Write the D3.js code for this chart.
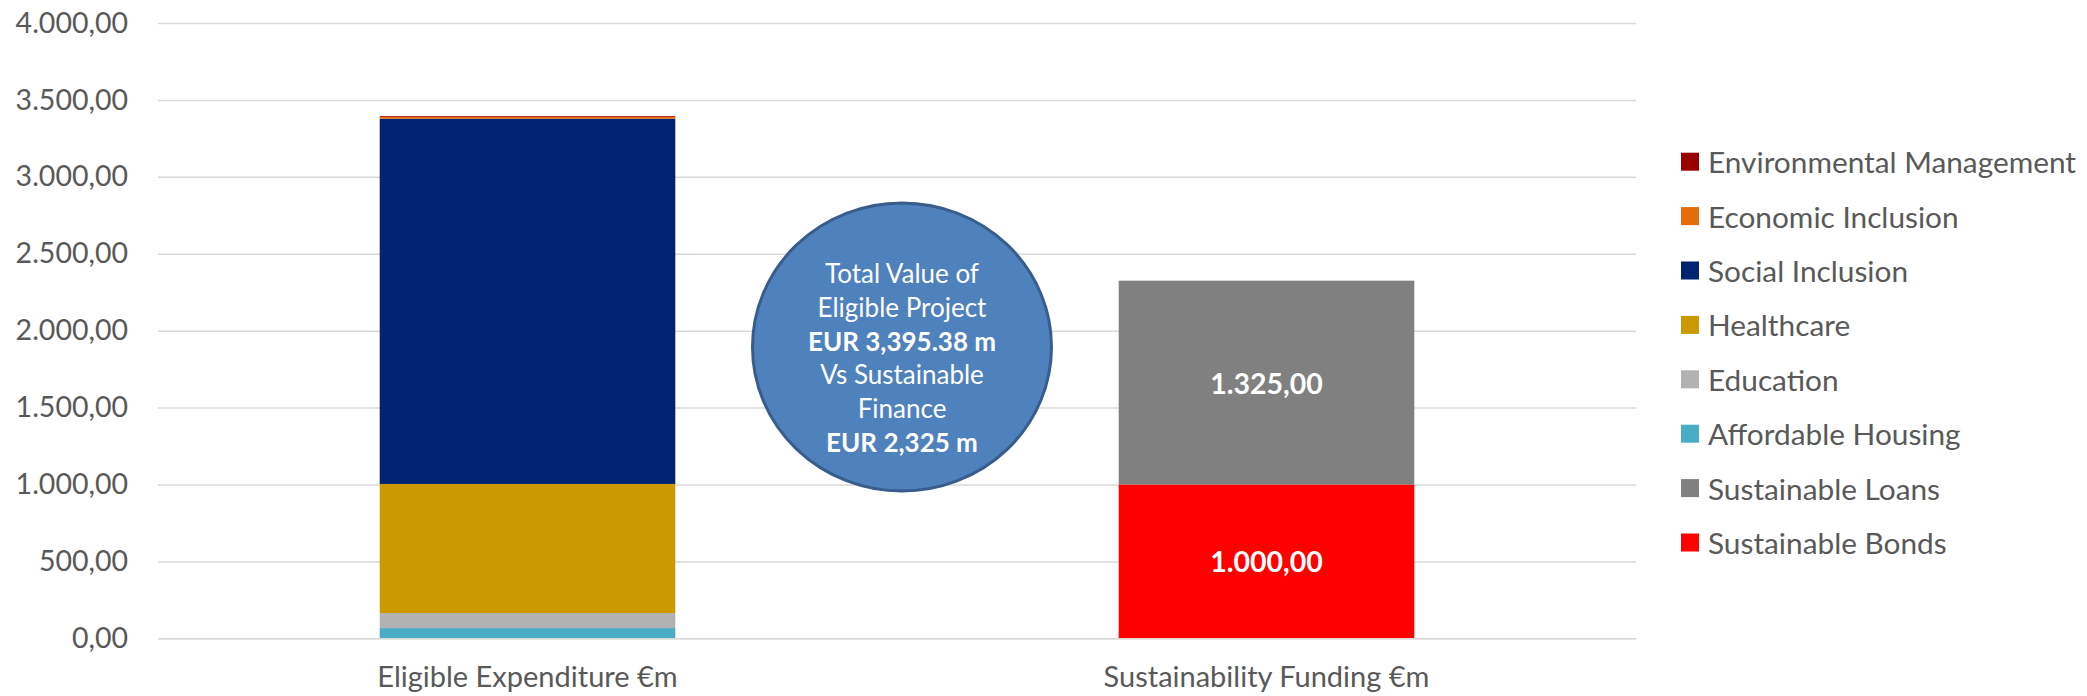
<!DOCTYPE html>
<html>
<head>
<meta charset="utf-8">
<script src="https://cdn.jsdelivr.net/npm/d3@7"></script>
<style>
  html, body { margin: 0; padding: 0; background: #ffffff; }
  svg { display: block; font-family: Lato, "Open Sans", sans-serif; }
</style>
</head>
<body>
<svg id="chart" width="2087" height="696"></svg>
<script>
// Categories on the x axis
const categories = ["Eligible Expenditure €m", "Sustainability Funding €m"];

// Series, bottom of the stack first
const seriesNames = [
  "Sustainable Bonds",
  "Sustainable Loans",
  "Affordable Housing",
  "Education",
  "Healthcare",
  "Social Inclusion",
  "Economic Inclusion",
  "Environmental Management"
];

// Values per series, one per category (€m)
const sustainableBonds        = [0, 1000.00];
const sustainableLoans        = [0, 1325.00];
const affordableHousing       = [66.5, 0];
const education               = [98.0, 0];
const healthcare              = [838.9, 0];
const socialInclusion         = [2374.5, 0];
const economicInclusion       = [12.5, 0];
const environmentalManagement = [5.0, 0];

const seriesColors = ["#FF0000", "#808080", "#4BACC6", "#B2B2B2", "#CC9900", "#002270", "#E46C0A", "#990000"];

// Series that carry value labels
const labelledSeries = ["Sustainable Bonds", "Sustainable Loans"];

// Y axis ticks
const yTicks = [0, 500, 1000, 1500, 2000, 2500, 3000, 3500, 4000];

// Call-out text (bold lines flagged)
const calloutLines = [
  { text: "Total Value of", bold: false },
  { text: "Eligible Project", bold: false },
  { text: "EUR 3,395.38 m", bold: true },
  { text: "Vs Sustainable", bold: false },
  { text: "Finance", bold: false },
  { text: "EUR 2,325 m", bold: true }
];

const valuesBySeries = [
  sustainableBonds, sustainableLoans, affordableHousing, education,
  healthcare, socialInclusion, economicInclusion, environmentalManagement
];

// Table: one row per category, one column per series
const table = categories.map((c, ci) => {
  const row = { category: c };
  seriesNames.forEach((s, si) => { row[s] = valuesBySeries[si][ci]; });
  return row;
});

const locale = d3.formatLocale({ decimal: ",", thousands: ".", grouping: [3], currency: ["", "€"] });
const fmt = locale.format(",.2f");

const svg = d3.select("#chart");
const plot = { left: 158, right: 1636, top: 23, bottom: 638.3 };

const x = d3.scaleBand()
  .domain(categories)
  .range([plot.left, plot.right])
  .paddingInner(0.6)
  .paddingOuter(0.3);

const y = d3.scaleLinear()
  .domain([0, 4000])
  .range([plot.bottom, plot.top]);

const color = d3.scaleOrdinal().domain(seriesNames).range(seriesColors);

const textColor = "#595959";
const gridColor = "#D9D9D9";

// Gridlines
const grid = svg.append("g")
  .attr("transform", `translate(${plot.left},0)`)
  .call(d3.axisLeft(y).tickValues(yTicks).tickSize(-(plot.right - plot.left)).tickFormat(""));
grid.select(".domain").remove();
grid.selectAll(".tick line").attr("stroke", gridColor).attr("stroke-width", 1.5);

// Y axis labels
const yAxis = svg.append("g")
  .attr("transform", `translate(${plot.left},0)`)
  .call(d3.axisLeft(y).tickValues(yTicks).tickSize(0).tickPadding(30).tickFormat(fmt));
yAxis.select(".domain").remove();
yAxis.selectAll("text")
  .attr("fill", textColor)
  .style("font-size", "28.5px")
  .style("font-family", "Lato, sans-serif");

// Stacked bars
const stack = d3.stack().keys(seriesNames);
const layers = stack(table);

const layerG = svg.append("g")
  .selectAll("g")
  .data(layers)
  .join("g")
  .attr("fill", d => color(d.key));

layerG.selectAll("rect")
  .data(d => d.map(p => ({ key: d.key, cat: p.data.category, y0: p[0], y1: p[1] })))
  .join("rect")
  .filter(d => d.y1 - d.y0 > 0)
  .attr("x", d => x(d.cat))
  .attr("width", x.bandwidth())
  .attr("y", d => y(d.y1))
  .attr("height", d => y(d.y0) - y(d.y1));

// X axis
const xAxis = svg.append("g")
  .attr("transform", `translate(0,${plot.bottom})`)
  .call(d3.axisBottom(x).tickSize(0).tickPadding(28));
xAxis.select(".domain").attr("stroke", gridColor).attr("stroke-width", 1.5);
xAxis.selectAll("text")
  .attr("fill", textColor)
  .style("font-size", "29px")
  .style("font-family", "Lato, sans-serif");

// Value labels
svg.append("g")
  .selectAll("text")
  .data(layers.filter(l => labelledSeries.includes(l.key))
    .flatMap(l => l.filter(p => p[1] - p[0] > 0).map(p => ({ cat: p.data.category, y0: p[0], y1: p[1] }))))
  .join("text")
  .attr("x", d => x(d.cat) + x.bandwidth() / 2)
  .attr("y", d => y((d.y0 + d.y1) / 2))
  .attr("text-anchor", "middle")
  .attr("dominant-baseline", "central")
  .attr("fill", "#ffffff")
  .style("font-size", "28.5px")
  .style("font-weight", "bold")
  .text(d => fmt(d.y1 - d.y0));

// Call-out ellipse
const callout = svg.append("g").attr("transform", "translate(902,347)");
callout.append("ellipse")
  .attr("rx", 149.5)
  .attr("ry", 144)
  .attr("fill", "#4F81BD")
  .attr("stroke", "#385D8A")
  .attr("stroke-width", 3);
callout.selectAll("text")
  .data(calloutLines)
  .join("text")
  .attr("x", 0)
  .attr("y", (d, i) => -73.7 + i * 33.7)
  .attr("text-anchor", "middle")
  .attr("dominant-baseline", "central")
  .attr("fill", "#ffffff")
  .style("font-size", "26px")
  .style("font-weight", d => d.bold ? "bold" : "normal")
  .text(d => d.text);

// Legend, top entry is the last series in the stack
const legendItems = seriesNames.slice().reverse();
const legend = svg.append("g")
  .selectAll("g")
  .data(legendItems)
  .join("g")
  .attr("transform", (d, i) => `translate(1681,${161.7 + i * 54.4})`);
legend.append("rect")
  .attr("x", 0).attr("y", -9)
  .attr("width", 18).attr("height", 18)
  .attr("fill", d => color(d));
legend.append("text")
  .attr("x", 27)
  .attr("y", 0)
  .attr("dominant-baseline", "central")
  .attr("fill", textColor)
  .style("font-size", "29.8px")
  .text(d => d);
</script>
</body>
</html>
